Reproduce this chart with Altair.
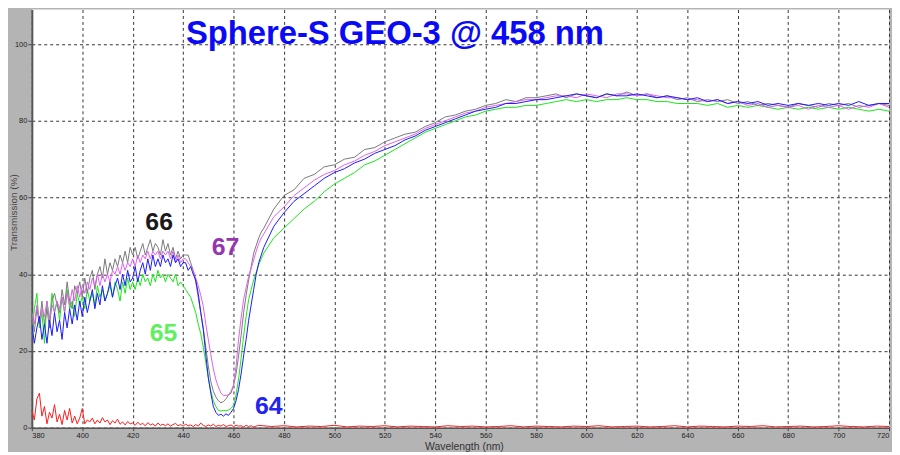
import altair as alt
import pandas as pd

# ---------------- data ----------------
W_LEFT = list(range(380, 441))       # 61 points
W_DIP = list(range(441, 472))        # 31 points
W_RIGHT = list(range(472, 721, 4))   # 63 points
WAVE = W_LEFT + W_DIP + W_RIGHT

S66_LEFT = [29, 25, 31, 27, 33, 27, 31, 26, 33, 35,
            32, 30, 36, 32, 38, 33, 31, 37, 35, 38,
            34, 39, 35, 39, 41, 36, 40, 42, 39, 44,
            40, 43, 41, 44, 42, 45, 43, 46, 43, 47,
            45, 47, 44, 46, 48, 45, 47, 49, 46, 48,
            47, 45, 49, 46, 48, 45, 47, 44, 46, 44,
            45]
S66_DIP = [45, 45, 43, 41, 38, 34, 30, 26, 21, 16, 12, 9.5, 8, 7, 6.5, 6.8, 7.5, 8.5, 9, 11,
           14, 18.7, 24, 30, 34.5, 38.5, 42, 45.5, 47.5, 49.5, 51]
S66_RIGHT = [52, 57, 60.5, 62, 65, 66, 68, 68.5, 70, 70.5, 72.5, 73, 74.5, 75.5, 76.5, 77, 78.5,
             79.5, 81, 81.5, 82.5, 83, 84, 84.5, 85.5, 85, 86, 86, 86.5, 87, 86, 87, 86.5, 86,
             87, 86.5, 87.5, 86.5, 87, 86, 86.5, 85.5, 86, 85, 85.5, 85, 85.5, 84.5, 85, 84,
             84.5, 84, 83.5, 84.5, 84, 83.5, 84.5, 84, 84.5, 83.5, 84, 84.5, 84]

S67_LEFT = [30, 27, 32, 28, 31, 29, 33, 28, 32, 30,
            33, 31, 34, 30, 35, 32, 36, 33, 37, 34,
            37, 35, 38, 36, 39, 37, 40, 37, 40, 38,
            40, 38, 41, 40, 42, 40, 43, 41, 43, 42,
            44, 42, 45, 43, 45, 44, 46, 44, 46, 45,
            46, 44, 46, 45, 46, 44, 46, 43, 45, 43,
            44]
S67_DIP = [44, 43, 42, 41, 39, 37, 34.5, 31.6, 27, 23, 19, 15.3, 12.5, 10.6, 9, 8.4, 8.4, 8.6,
           9.5, 11, 16, 23, 28.5, 33.4, 36.5, 39.4, 41.5, 43.7, 46, 48, 49.4]
S67_RIGHT = [50.5, 55, 57.5, 60.5, 62.5, 64.5, 66, 67, 68.5, 69.5, 71, 72, 73.5, 74.5, 75.5,
             76.5, 78, 79, 80, 81, 82, 82.5, 83.5, 84, 84.5, 85, 85.5, 85.5, 86, 86.5, 86.5,
             86, 87, 86.5, 86, 87, 87, 86.5, 87, 86.5, 86, 86, 85.5, 85.5, 85, 85.5, 84.5, 85,
             84, 84.5, 83.5, 84, 83.5, 84, 83, 84, 83.5, 84, 83, 84, 83.5, 84.5, 83.5]

S64_LEFT = [27, 22, 26, 29, 23, 27, 22, 28, 24, 30,
            25, 28, 23, 30, 26, 31, 27, 32, 28, 33,
            29, 34, 30, 33, 36, 31, 35, 32, 37, 33,
            35, 38, 34, 37, 39, 36, 40, 37, 41, 38,
            39, 42, 38, 41, 43, 40, 44, 41, 45, 42,
            44, 42, 45, 43, 44, 42, 45, 43, 44, 42,
            43]
S64_DIP = [43, 41, 42, 40, 38.5, 35, 30, 25.6, 19, 13, 9, 5.5, 4, 3.2, 3.5, 3, 3.6, 3.2, 4, 5,
           7, 10, 14, 18.7, 23, 28, 32, 36, 40, 43, 45]
S64_RIGHT = [47, 52.5, 56, 59, 61, 63, 65, 66.5, 67.5, 69, 70, 71.5, 72.5, 73.5, 75, 76, 77.5,
             78.5, 79.5, 80.5, 81.5, 82.5, 83, 83.5, 84.5, 84.5, 85, 85.5, 85.5, 86, 86.5, 87,
             86.5, 86, 87, 86.5, 86.5, 87, 86.5, 86, 86.5, 86, 85.5, 86, 85, 85.5, 84.5, 85,
             84.5, 85, 84, 84.5, 84, 84.5, 84, 84.5, 84, 84.5, 84, 85, 84, 84.5, 84.5]

S65_LEFT = [24, 31, 35, 26, 30, 22, 33, 28, 35, 30,
            33, 28, 34, 30, 36, 31, 33, 29, 35, 32,
            34, 31, 36, 33, 35, 32, 37, 34, 36, 33,
            35, 37, 34, 38, 36, 33, 38, 35, 39, 36,
            38, 36, 39, 37, 40, 38, 39, 37, 40, 38,
            41, 39, 40, 38, 40, 39, 38, 40, 37, 38,
            37]
S65_DIP = [36, 35, 34, 32, 30, 27, 24.5, 21, 17, 13, 9.5, 7, 5.5, 4.5, 4.3, 4.5, 4.4, 4.6, 5,
           5.8, 8.5, 12.7, 18, 23.9, 29, 33.4, 36, 38.5, 40.5, 42.5, 44]
S65_RIGHT = [45.5, 49.5, 52, 54.5, 57, 59, 61.5, 63.5, 65, 66.5, 68.5, 69.5, 71, 72.5, 74,
             75.5, 77, 78, 79, 80, 81, 81.5, 82.5, 83, 83.5, 83.5, 84, 84, 84.5, 85, 85.5, 85,
             85.5, 85, 85.5, 85.5, 86, 85.5, 85.5, 85, 85, 84.5, 84.5, 84.5, 84, 84.5, 83.5,
             84, 83.5, 84, 83.5, 83, 83.5, 83, 83.5, 83, 83.5, 83, 83.5, 83, 82.5, 83, 82.5]

RED_WAVE = list(range(380, 471)) + list(range(475, 721, 5))
RED = [4.5, 2.0, 7.5, 9.0, 3.0, 5.5, 1.0, 4.0, 2.5, 6.0, 1.5, 3.5, 0.8, 4.5, 2.0, 5.0, 1.2, 3.0,
       1.0, 2.5, 5.0, 1.0, 2.0, 1.5, 2.5, 1.0, 2.0, 1.2, 2.6, 1.5, 2.0, 0.8, 1.8, 1.2, 2.2, 0.9,
       1.5, 0.7, 1.6, 1.0, 1.2, 0.6, 1.4, 0.8, 1.1, 0.5, 1.3, 0.7, 1.0, 0.4, 1.2, 0.6, 0.9, 0.5,
       1.0, 0.4, 0.8, 1.1, 0.5, 0.8, 0.4, 0.9, 0.5, 0.7, 0.3, 0.8, 0.4, 1.2, 0.6, 0.3, 0.7, 0.4,
       0.9, 0.3, 0.6, 0.4, 0.8, 0.3, 0.5, 0.7, 0.3, 0.6, 0.4, 0.5, 0.2, 0.6, 0.3, 0.5, 0.2, 0.4,
       0.6,
       0.3, 0.5, 0.2, 0.4, 0.3, 0.6, 0.2, 0.4, 0.3, 0.5,
       0.2, 0.4, 0.3, 0.2, 0.5, 0.3, 0.4, 0.2, 0.3, 0.5,
       0.2, 0.4, 0.3, 0.2, 0.4, 0.3, 0.5, 0.2, 0.3, 0.4,
       0.2, 0.3, 0.5, 0.2, 0.4, 0.3, 0.2, 0.4, 0.3, 0.5,
       0.2, 0.3, 0.4, 0.2, 0.3, 0.5, 0.3, 0.2, 0.4, 0.3]

SERIES = {
    "red": (RED_WAVE, RED, "#ff1a1a"),
    "65": (WAVE, S65_LEFT + S65_DIP + S65_RIGHT, "#19e619"),
    "66": (WAVE, S66_LEFT + S66_DIP + S66_RIGHT, "#7a7a7a"),
    "67": (WAVE, S67_LEFT + S67_DIP + S67_RIGHT, "#e060ee"),
    "64": (WAVE, S64_LEFT + S64_DIP + S64_RIGHT, "#1a1aff"),
}

LABEL_TEXT = ["66", "67", "65", "64"]
LABEL_X = [430.5, 456.8, 432.2, 474.0]
LABEL_Y = [53.6, 47.2, 24.6, 5.6]
LABEL_COLOR = ["#1a1a1a", "#9436b0", "#5ef05e", "#2424f0"]

TITLE = "Sphere-S GEO-3 @ 458 nm"
TITLE_X = [524.0]
TITLE_Y = [100.0]

# ---------------- chart ----------------
x_scale = alt.Scale(domain=[380, 720], nice=False, zero=False)
y_scale = alt.Scale(domain=[0, 109], nice=False, zero=True)

x_axis = alt.Axis(values=list(range(380, 721, 20)), title="Wavelength (nm)", grid=True,
                  gridDash=[3, 3], gridColor="#333333", gridWidth=1, tickSize=3,
                  tickColor="#444", domainColor="#555", domainWidth=1.5,
                  labelFont="Liberation Sans", labelFontSize=7.5, labelColor="#222",
                  labelPadding=1, titleFont="Liberation Sans", titleFontSize=10.5,
                  titleFontWeight="normal", titleColor="#333", titleY=18.5,
                  titleBaseline="middle", titleX=435)
y_axis = alt.Axis(values=[0, 20, 40, 60, 80, 100], title="Transmission (%)", grid=True,
                  gridDash=[3, 3], gridColor="#333333", gridWidth=1, tickSize=4,
                  tickColor="#444", domainColor="#555", domainWidth=2,
                  labelFont="Liberation Sans", labelFontSize=7.5, labelColor="#222",
                  labelPadding=1, titleFont="Liberation Sans", titleFontSize=10,
                  titleFontWeight="normal", titleColor="#444", titleX=-18.5, titleY=204,
                  titleBaseline="middle", titleAngle=-90)

X_ENC = alt.X("wl:Q", scale=x_scale, axis=x_axis)
Y_ENC = alt.Y("val:Q", scale=y_scale, axis=y_axis)

layers = []
for name, (wl, vals, col) in SERIES.items():
    d = pd.DataFrame({"wl": wl, "val": vals})
    layers.append(
        alt.Chart(d).mark_line(color=col, strokeWidth=1, clip=True).encode(x=X_ENC, y=Y_ENC)
    )

lab = pd.DataFrame({"t": LABEL_TEXT, "wl": LABEL_X, "val": LABEL_Y, "c": LABEL_COLOR})
layers.append(
    alt.Chart(lab).mark_text(font="Liberation Sans", fontSize=25, fontWeight="bold",
                             align="center", baseline="middle").encode(
        x=X_ENC, y=Y_ENC, text="t:N", color=alt.Color("c:N", scale=None),
    )
)

tdf = pd.DataFrame({"t": [TITLE], "wl": TITLE_X, "val": TITLE_Y})
layers.append(
    alt.Chart(tdf).mark_text(font="Liberation Sans", fontSize=33, fontWeight="bold",
                             align="center", baseline="alphabetic", color="#0a0af5").encode(
        x=X_ENC, y=Y_ENC, text="t:N",
    )
)

chart = alt.layer(*layers).properties(
    width=863, height=421,
    padding={"left": 24, "top": 0, "right": 3, "bottom": 23},
    autosize=alt.AutoSizeParams(type="none"),
    background="#b4b4b4",
).configure_view(fill="white", stroke=None)

chart.save("out.html", embed_options={"renderer": "svg", "actions": False})
